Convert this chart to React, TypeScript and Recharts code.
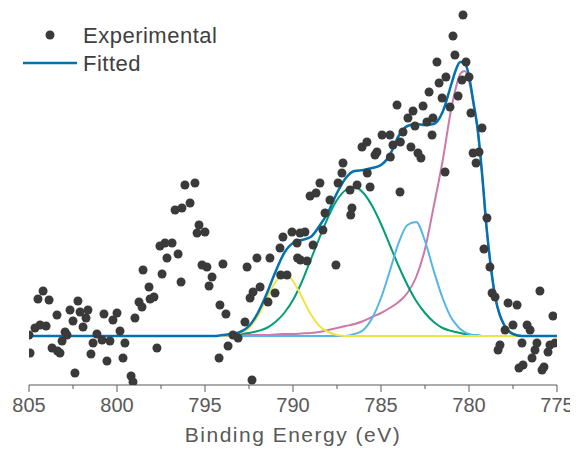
import { ComposedChart, Scatter, Line, XAxis, YAxis, Label } from 'recharts';

// experimental points: binding energy (eV) and intensity (a.u., baseline = 0)
const expBE = [
  805.0, 804.94, 804.66, 804.49, 804.37, 804.2, 804.03, 803.86, 803.69, 803.41,
  803.38, 803.24, 803.12, 802.95, 802.84, 802.67, 802.5, 802.39, 802.22, 802.1,
  801.93, 801.76, 801.65, 801.48, 801.36, 801.14, 800.85, 800.74, 800.57, 800.4,
  800.23, 800.0, 799.83, 799.66, 799.55, 799.2, 799.09, 798.98, 798.75, 798.58,
  798.52, 798.18, 798.12, 797.9, 797.73, 797.56, 797.44, 797.27, 797.16, 796.87,
  796.7, 796.53, 796.36, 796.31, 796.14, 795.85, 795.57, 795.45, 795.34, 795.17,
  795.0, 794.89, 794.77, 794.6, 794.2, 794.15, 793.98, 793.81, 793.69, 793.41,
  793.12, 792.73, 792.61, 792.44, 792.33, 792.27, 792.05, 791.87, 791.42, 791.31,
  791.02, 790.74, 790.7, 790.57, 790.34, 790.06, 789.77, 789.74, 789.6, 789.58,
  789.32, 789.2, 789.03, 788.86, 788.69, 788.47, 788.3, 788.18, 787.9, 787.56,
  787.44, 787.22, 787.16, 786.76, 786.72, 786.65, 786.36, 786.08, 785.8, 785.78,
  785.62, 785.34, 785.23, 784.94, 784.49, 784.47, 784.32, 784.09, 783.92, 783.9,
  783.75, 783.47, 783.3, 783.18, 783.07, 782.9, 782.73, 782.61, 782.39, 782.27,
  782.1, 782.05, 781.82, 781.7, 781.53, 781.36, 781.31, 781.08, 780.91, 780.8,
  780.62, 780.4, 780.34, 780.17, 780.0, 779.89, 779.77, 779.6, 779.43, 779.26,
  779.15, 778.98, 778.81, 778.69, 778.52, 778.35, 778.24, 777.95, 777.78, 777.5,
  777.27, 777.16, 776.99, 776.93, 776.7, 776.53, 776.42, 776.25, 776.14, 775.97,
  775.85, 775.74, 775.51, 775.4, 775.23, 775.11,
];
const expCounts = [
  1, -17, 8, 37, 11, 45, 10, 36, -12, 21,
  -15, -17, -5, 4, 1, 26, 15, -37, 35, 24,
  9, 18, 26, -18, -7, 2, -4, 22, -25, -5,
  16, 23, 5, -22, -7, -40, -46, 18, 34, 29,
  66, 49, 37, 39, -12, 90, 62, 93, 78, 93,
  126, 82, 54, 128, 151, 133, 153, 103, 111, 71,
  104, 69, 50, 59, -22, 31, 72, 22, -10, 1,
  -2, 14, 69, 38, -44, 44, 78, 49, 34, 78,
  43, 88, 61, 99, 61, 104, 93, 78, 103, 76,
  104, 75, 140, 91, 143, 153, 106, 123, 136, 71,
  153, 163, 173, 146, 121, 128, 151, 189, 194, 163,
  149, 181, 184, 201, 201, 179, 191, 231, 144, 194,
  204, 218, 189, 225, 210, 183, 178, 230, 214, 244,
  201, 218, 274, 253, 238, 164, 259, 229, 300, 281,
  240, 256, 321, 274, 259, 223, 183, 173, 184, 208,
  87, 118, 69, 43, 39, -14, -9, 6, 33, 11,
  31, -32, -7, -29, 11, 6, -22, -14, -7, 45,
  -34, -31, -16, -9, 20, -7,
];

// energy grid of the fitted components
const peakBE = [
  794, 793.5, 793, 792.5, 792, 791.5, 791, 790.5, 790, 789.5,
  789, 788.5, 788, 787.5, 787, 786.5, 786, 785.5, 785, 784.5,
  784, 783.5, 783, 782.5, 782, 781.5, 781, 780.75, 780.5, 780.25,
  780, 779.75, 779.5, 779.25, 779, 778.75, 778.5, 778.25, 778, 777.5,
  777,
];
const fitted = [
  1, 2, 4, 10, 23, 42, 64, 83, 93, 96,
  99, 110, 124, 143, 158, 165, 166, 168, 171, 181,
  200, 210, 212, 211, 212, 224, 252, 266, 274, 273,
  260, 234, 206, 161, 108, 68, 38, 21, 11, 2,
  0,
];
const peakYellow = [
  0, 1, 3, 8, 20, 37, 54, 62, 55, 39,
  22, 10, 4, 1, 0, 0, 0, 0, 0, 0,
  0, 0, 0, 0, 0, 0, 0, 0, 0, 0,
  0, 0, 0, 0, 0, 0, 0, 0, 0, 0,
  0,
];
const peakGreen = [
  1, 1, 2, 3, 5, 8, 14, 23, 36, 54,
  76, 98, 119, 136, 146, 149, 143, 130, 112, 91,
  70, 51, 35, 23, 14, 8, 5, 4, 3, 2,
  1, 1, 0, 0, 0, 0, 0, 0, 0, 0,
  0,
];
const peakSky = [
  0, 0, 0, 0, 0, 0, 0, 0, 0, 0,
  0, 0, 0, 0, 0, 2, 6, 18, 38, 65,
  93, 111, 114, 95, 65, 38, 18, 12, 7, 4,
  2, 1, 1, 0, 0, 0, 0, 0, 0, 0,
  0,
];
const peakPink = [
  0, 0, 0.5, 1, 1, 1, 1.5, 2, 2, 2.5,
  3, 4, 6, 8, 10, 12, 15, 19, 23, 28,
  34, 43, 59, 87, 130, 175, 228, 248, 262, 265,
  255, 232, 204, 160, 108, 68, 38, 21, 11, 2,
  0,
];

const energyTicks = [805, 802.5, 800, 797.5, 795, 792.5, 790, 787.5, 785, 782.5, 780, 777.5, 775];

const FONT = 'Arial, "Liberation Sans", sans-serif';
const AXIS_GREY = '#595959';

const toRows = (xs: number[], ys: number[]) => xs.map((be, i) => ({ be, v: ys[i] }));

const expRows = toRows(expBE, expCounts);
const fitRows = [{ be: 805, v: 0 }, { be: 794.5, v: 0 }, ...toRows(peakBE, fitted), { be: 775, v: 0 }];

const EnergyTick = (props: any) => {
  const { x, y, payload } = props;
  const major = payload.value % 5 === 0;
  return (
    <g>
      <line x1={x} y1={y} x2={x} y2={y + (major ? 7 : 4)} stroke={AXIS_GREY} strokeWidth={1} />
      {major && (
        <text x={x} y={y + 27} textAnchor="middle" fontSize={20} fill={AXIS_GREY} fontFamily={FONT}>
          {payload.value}
        </text>
      )}
    </g>
  );
};

const Dot = (props: any) => <circle cx={props.cx} cy={props.cy} r={4.5} fill="#3a3a3a" />;

export default function App() {
  return (
    <div style={{ position: 'relative', width: 570, height: 440 }}>
      <ComposedChart width={570} height={440} margin={{ top: 2, right: 21, left: 21, bottom: 5 }}>
        <XAxis
          dataKey="be"
          type="number"
          domain={[775, 805]}
          reversed
          ticks={energyTicks}
          interval={0}
          allowDataOverflow
          height={58}
          tickSize={0}
          tickMargin={0}
          tickLine={false}
          tick={<EnergyTick />}
          axisLine={{ stroke: AXIS_GREY, strokeWidth: 1 }}
        >
          <Label
            value="Binding Energy (eV)"
            position="insideBottom"
            offset={1}
            fill={AXIS_GREY}
            style={{ fontSize: 21, fontFamily: FONT, letterSpacing: 1.5 }}
          />
        </XAxis>
        <YAxis dataKey="v" type="number" hide domain={[-49, 326]} allowDataOverflow />
        <Scatter data={expRows} dataKey="v" shape={<Dot />} isAnimationActive={false} />
        <Line data={toRows(peakBE, peakPink)} dataKey="v" type="monotone" stroke="#cc79a7" strokeWidth={2} dot={false} activeDot={false} isAnimationActive={false} />
        <Line data={toRows(peakBE, peakGreen)} dataKey="v" type="monotone" stroke="#009e73" strokeWidth={2} dot={false} activeDot={false} isAnimationActive={false} />
        <Line data={toRows(peakBE, peakSky)} dataKey="v" type="monotone" stroke="#56b4e9" strokeWidth={2} dot={false} activeDot={false} isAnimationActive={false} />
        <Line data={toRows(peakBE, peakYellow)} dataKey="v" type="monotone" stroke="#f0e442" strokeWidth={2} dot={false} activeDot={false} isAnimationActive={false} />
        <Line data={fitRows} dataKey="v" type="monotone" stroke="#0072b2" strokeWidth={2.5} dot={false} activeDot={false} isAnimationActive={false} />
      </ComposedChart>
      <svg width={230} height={80} style={{ position: 'absolute', left: 0, top: 0 }}>
        <circle cx={42} cy={27} r={4.5} fill="#3a3a3a" />
        <line x1={15} y1={55} x2={69} y2={55} stroke="#0072b2" strokeWidth={2.5} />
        <text x={75} y={35} fontSize={22} fill="#404040" fontFamily={FONT} letterSpacing={0.5}>Experimental</text>
        <text x={75} y={63} fontSize={22} fill="#404040" fontFamily={FONT} letterSpacing={0.5}>Fitted</text>
      </svg>
    </div>
  );
}
